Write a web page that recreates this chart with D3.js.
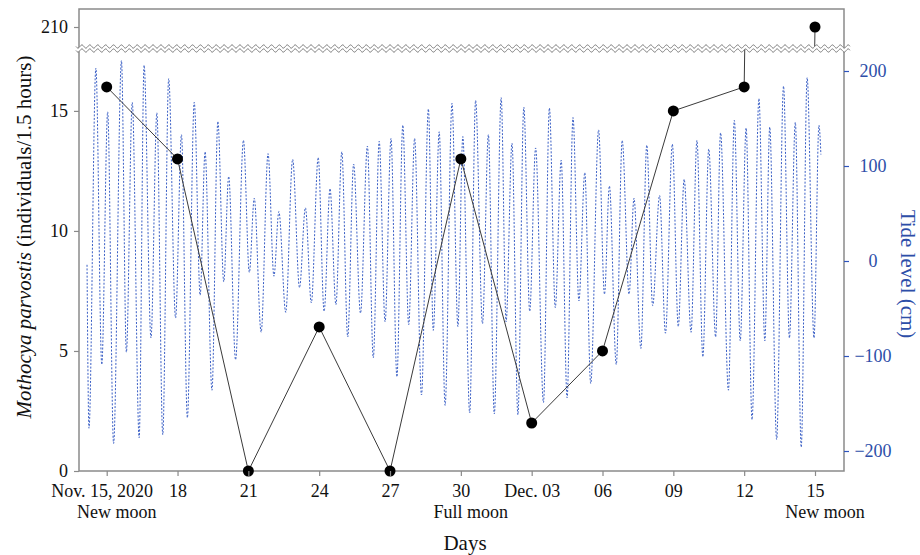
<!DOCTYPE html>
<html>
<head>
<meta charset="utf-8" />
<style>
  body { margin: 0; background: #fff; }
  text { font-family: "Liberation Serif", "Times New Roman", serif; }
  .tide { fill: none; stroke: #3a5fc6; stroke-width: 1; stroke-dasharray: 2,1.6; }
  .count { fill: none; stroke: #3a3a3a; stroke-width: 1; }
  .frame { fill: none; stroke: #8a8a8a; stroke-width: 1.5; }
</style>
</head>
<body>
<svg id="chart" width="920" height="555"></svg>
<script src="https://cdn.jsdelivr.net/npm/d3@7/dist/d3.min.js"></script>
<script>
// sampling days (days after Nov. 15, 2020) and isopod counts
var sampleDays = [0, 3, 6, 9, 12, 15, 18, 21, 24, 27, 30];
var counts = [16, 13, 0, 6, 0, 13, 2, 5, 15, 16, 210];
var dayLabels = ['Nov. 15, 2020', '18', '21', '24', '27', '30', 'Dec. 03', '06', '09', '12', '15'];
var moonDays = [0, 15, 30];
var moonLabels = ['New moon', 'Full moon', 'New moon'];
var countTicksLow = [0, 5, 10, 15];
var countTicksHigh = [210];
var tideTicks = [-200, -100, 0, 100, 200];

// tide: turning points, hours after Nov. 15 00:00, level in cm
var tideHours = [-20,-18,-11,-5,1,7,15,20,26,33,38,45,51,57,63,70,76,82,89,95,100,107,113,119,124,131,139,145,150,157,164,170,175,182,189,196,202,208,215,221,227,233,239,245,251,258,265,271,277,283,289,295,301,307,313,320,327,332,338,344,351,357,362,369,375,382,388,394,401,406,412,418,424,430,436,444,450,456,462,468,474,480,486,492,500,506,511,518,524,531,536,543,549,555,562,568,575,581,587,594,600,606,612,619,624,632,638,644,650,656,663,669,674,681,688,694,700,706,712,719,724,726];
var tideLevels = [-4,-176,203,-109,157,-192,211,-96,167,-186,206,-81,156,-183,192,-60,133,-165,167,-36,115,-136,147,-22,89,-104,127,-12,66,-75,113,-16,52,-54,107,-28,56,-44,109,-53,76,-46,115,-80,102,-55,121,-102,126,-64,129,-122,143,-67,129,-141,160,-73,136,-152,166,-69,131,-160,169,-66,133,-161,172,-64,124,-162,162,-53,119,-149,161,-49,106,-144,151,-42,93,-129,138,-35,79,-109,127,-35,66,-92,122,-47,69,-76,123,-69,86,-75,127,-101,118,-80,135,-136,148,-84,140,-167,171,-84,141,-188,184,-81,146,-196,193,-81,143,112];

var L = 79, R = 844, T = 9, B = 471, breakY = 48.5;
var svg = d3.select('#chart');

var x = d3.scaleLinear().domain([0, 30]).range([106.7, 815]);
var yLow = d3.scaleLinear().domain([0, 15]).range([B, 110.9]);
var yHigh = d3.scaleLinear().domain([210, 211]).range([27, 2.93]);
var yTide = d3.scaleLinear().domain([-200, 200]).range([451, 71]);

var defs = svg.append('defs');
defs.append('clipPath').attr('id', 'clipLow').append('rect')
  .attr('x', L).attr('y', breakY).attr('width', R - L).attr('height', B - breakY + 4);
defs.append('clipPath').attr('id', 'clipHigh').append('rect')
  .attr('x', L).attr('y', T).attr('width', R - L).attr('height', breakY - T);

// tide line
var tide = tideHours.map(function (h, i) { return [h / 24, tideLevels[i]]; });
svg.append('path')
  .datum(tide)
  .attr('class', 'tide')
  .attr('d', d3.line()
    .x(function (d) { return x(d[0]); })
    .y(function (d) { return yTide(d[1]); })
    .curve(d3.curveMonotoneX));

// frame
svg.append('rect').attr('class', 'frame')
  .attr('x', L).attr('y', T).attr('width', R - L).attr('height', B - T);

// count line, drawn in both panels
var pts = sampleDays.map(function (d, i) { return [d, counts[i]]; });
[[yLow, 'clipLow'], [yHigh, 'clipHigh']].forEach(function (p) {
  svg.append('path')
    .datum(pts)
    .attr('class', 'count')
    .attr('clip-path', 'url(#' + p[1] + ')')
    .attr('d', d3.line()
      .x(function (d) { return x(d[0]); })
      .y(function (d) { return p[0](d[1]); }));
});

// axis break (double wave)
var wx = d3.range(76, 850.5, 0.5);
function wave(base) {
  return wx.map(function (v) { return [v, base + 1.6 * Math.sin(2 * Math.PI * (v - 76) / 7.9)]; });
}
var waveTop = wave(46.5), waveBot = wave(50.5);
svg.append('path')
  .attr('d', d3.line()(waveTop.concat(waveBot.slice().reverse())) + 'Z')
  .attr('fill', '#fff');
[waveTop, waveBot].forEach(function (w) {
  svg.append('path').attr('d', d3.line()(w))
    .attr('fill', 'none').attr('stroke', '#777').attr('stroke-width', 1);
});

// dots
svg.append('g').selectAll('circle')
  .data(pts)
  .enter().append('circle')
  .attr('cx', function (d) { return x(d[0]); })
  .attr('cy', function (d) { return d[1] > 100 ? yHigh(d[1]) : yLow(d[1]); })
  .attr('r', 5.5)
  .attr('fill', '#000');

function styleAxis(g, lineColor, textColor) {
  g.select('.domain').remove();
  g.selectAll('.tick line').attr('stroke', lineColor).attr('stroke-width', 1.2);
  g.selectAll('.tick text').attr('fill', textColor)
    .style('font-family', '"Liberation Serif", "Times New Roman", serif')
    .style('font-size', '18px');
}

// left axes
svg.append('g').attr('transform', 'translate(' + L + ',0)')
  .call(d3.axisLeft(yLow).tickValues(countTicksLow).tickFormat(d3.format('d')).tickSize(5).tickPadding(6))
  .call(styleAxis, '#8a8a8a', '#111');
svg.append('g').attr('transform', 'translate(' + L + ',0)')
  .call(d3.axisLeft(yHigh).tickValues(countTicksHigh).tickFormat(d3.format('d')).tickSize(5).tickPadding(6))
  .call(styleAxis, '#8a8a8a', '#111');

// right axis
var ra = svg.append('g').attr('transform', 'translate(' + R + ',0)')
  .call(d3.axisRight(yTide).tickValues(tideTicks).tickSize(5))
  .call(styleAxis, '#2f55bf', '#2d4ea8');
ra.selectAll('.tick text').attr('x', 29).attr('text-anchor', 'middle');

// bottom axis
var ba = svg.append('g').attr('transform', 'translate(0,' + B + ')')
  .call(d3.axisBottom(x).tickValues(sampleDays)
    .tickFormat(function (d, i) { return dayLabels[i]; })
    .tickSize(5).tickPadding(8))
  .call(styleAxis, '#8a8a8a', '#111');
ba.selectAll('.tick text').filter(function (d) { return d === 0; }).attr('dx', -5);

svg.append('g').selectAll('text')
  .data(moonDays)
  .enter().append('text')
  .attr('x', function (d) { return x(d) + 10; })
  .attr('y', 518)
  .attr('text-anchor', 'middle')
  .attr('font-size', 18)
  .attr('fill', '#111')
  .text(function (d, i) { return moonLabels[i]; });

// axis titles
svg.append('text')
  .attr('x', 465).attr('y', 550)
  .attr('text-anchor', 'middle').attr('font-size', 21).attr('fill', '#111')
  .text('Days');

var yt = svg.append('text')
  .attr('transform', 'translate(31,237) rotate(-90)')
  .attr('text-anchor', 'middle').attr('font-size', 21).attr('fill', '#111');
yt.append('tspan').attr('font-style', 'italic').text('Mothocya parvostis');
yt.append('tspan').text(' (individuals/1.5 hours)');

svg.append('text')
  .attr('transform', 'translate(901,274) rotate(90)')
  .attr('text-anchor', 'middle').attr('font-size', 21).attr('fill', '#2d4ea8')
  .text('Tide level (cm)');
</script>
</body>
</html>
